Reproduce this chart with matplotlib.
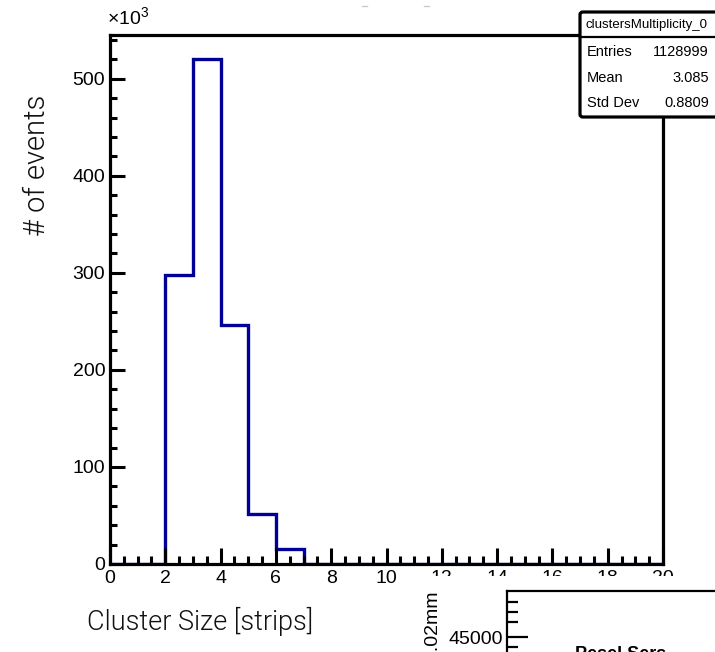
import matplotlib
matplotlib.use("Agg")
import matplotlib.pyplot as plt
import numpy as np
from matplotlib.lines import Line2D
from matplotlib.patches import Rectangle, FancyBboxPatch

W, H = 715, 652

# cluster size histogram, integer bins 0..20, counts in thousands
bin_edges = np.arange(0, 21)
counts_k = [0, 0, 298, 520, 246, 51, 15, 0, 0, 0, 0, 0, 0, 0, 0, 0, 0, 0, 0, 0]

hist_name = "clustersMultiplicity_0"
stat_labels = ["Entries", "Mean", "Std Dev"]
stat_values = ["1128999", "3.085", "0.8809"]

x_ticks = list(range(0, 21, 2))
y_ticks = [0, 100, 200, 300, 400, 500]

# neighbouring panel, only its corner shows
side_ticks = [45000]
side_minor = [48500, 47500, 46500, 44000, 43000]

plt.rcParams["font.family"] = ["Liberation Sans", "DejaVu Sans"]
plt.rcParams["mathtext.fontset"] = "custom"
plt.rcParams["mathtext.rm"] = "Liberation Sans"
plt.rcParams["mathtext.it"] = "Liberation Sans"

TITLE_FONT = ["Roboto", "DejaVu Sans"]


def fx(x):
    return x / W


def fy(y):
    return 1 - y / H


fig = plt.figure(figsize=(W / 100, H / 100), dpi=100)
ax = fig.add_axes([fx(110), fy(564), fx(663) - fx(110), fy(35) - fy(564)])

ax.stairs(counts_k, bin_edges, color="#000099", linewidth=2.4, baseline=0)

ax.set_xlim(0, 20)
ax.set_ylim(0, 545)
ax.set_xticks(x_ticks)
ax.set_xticks(np.arange(0, 20.01, 0.5), minor=True)
ax.set_yticks(y_ticks)
ax.set_yticks(np.arange(0, 541, 20), minor=True)
ax.set_xticklabels([str(v) for v in x_ticks])
ax.set_yticklabels([str(v) for v in y_ticks])

ax.tick_params(axis="both", which="both", direction="in", colors="black", width=2.2,
               labelsize=14)
ax.tick_params(axis="x", which="major", length=11.5, pad=4.5)
ax.tick_params(axis="x", which="minor", length=5.8)
ax.tick_params(axis="y", which="major", length=11, pad=3.5)
ax.tick_params(axis="y", which="minor", length=5.2)
for side in ax.spines.values():
    side.set_linewidth(2.3)

fig.text(fx(107), fy(17), r"$\times10^{3}$", fontsize=14, ha="left", va="center")

fig.text(fx(37), fy(165), "# of events", rotation=90, fontsize=21,
         family=TITLE_FONT, fontweight=300, color="#111111",
         ha="center", va="center")
fig.text(fx(87), fy(621), "Cluster Size [strips]", fontsize=19.5,
         family=TITLE_FONT, fontweight=300, color="#111111",
         ha="left", va="center")

# faint bits of a clipped title
for x0 in (362, 424):
    fig.add_artist(Line2D([fx(x0), fx(x0 + 5)], [fy(6), fy(6)], color="#cccccc", lw=1))

# stats box
box = FancyBboxPatch((fx(580), fy(117)), fx(780) - fx(580), fy(12) - fy(117),
                     boxstyle="round,pad=0,rounding_size=0.004",
                     transform=fig.transFigure, facecolor="white", edgecolor="black",
                     linewidth=2.3, zorder=5)
fig.add_artist(box)
fig.add_artist(Line2D([fx(580), fx(715)], [fy(37), fy(37)], color="black", lw=1.6, zorder=6))
fig.text(fx(585), fy(25), hist_name, fontsize=9.5, ha="left", va="center", zorder=7)
for i, (lab, val) in enumerate(zip(stat_labels, stat_values)):
    yy = fy(52 + i * 25.5)
    fig.text(fx(587), yy, lab, fontsize=10.5, ha="left", va="center", zorder=7)
    fig.text(fx(709), yy, val, fontsize=10.5, ha="right", va="center", zorder=7)

# next pad overlapping the lower right corner
fig.add_artist(Rectangle((fx(415), 0), 1 - fx(415), fy(576), transform=fig.transFigure,
                         facecolor="white", edgecolor="none", zorder=8))
ax2 = fig.add_axes([fx(507), fy(782), 0.6, fy(591) - fy(782)], zorder=9)
ax2.set_ylim(45000 + (637 - 782) * 100, 45000 + (637 - 591) * 100)
ax2.set_xlim(0, 1)
ax2.set_yticks(side_ticks)
ax2.set_yticks(side_minor, minor=True)
ax2.set_yticklabels([str(v) for v in side_ticks])
ax2.set_xticks([])
ax2.tick_params(axis="y", which="both", direction="in", width=1.6, labelsize=14, pad=3)
ax2.tick_params(axis="y", which="major", length=15)
ax2.tick_params(axis="y", which="minor", length=8)
for side in ax2.spines.values():
    side.set_linewidth(1.6)
fig.text(fx(433), fy(592), "Counts / 0.02mm", rotation=90, fontsize=14,
         ha="center", va="top", zorder=10)
fig.text(fx(575), fy(646), "Pesel Sers", fontsize=13, fontweight="bold",
         ha="left", va="top", zorder=10)

fig.savefig("out.png", dpi=100)
